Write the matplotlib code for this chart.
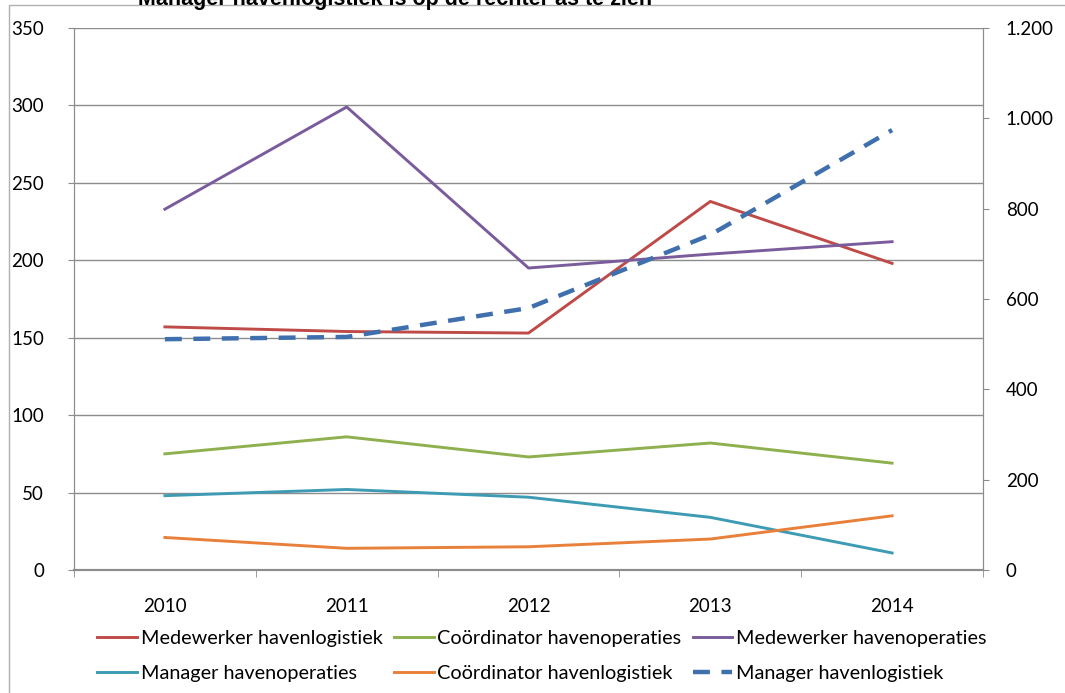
import matplotlib
matplotlib.use("Agg")
import matplotlib.pyplot as plt
from matplotlib.patches import Rectangle

plt.rcParams['font.family'] = ['Lato', 'DejaVu Sans']

jaren = ['2010', '2011', '2012', '2013', '2014']

medewerker_logistiek = [157, 154, 153, 238, 198]
coordinator_operaties = [75, 86, 73, 82, 69]
medewerker_operaties = [233, 299, 195, 204, 212]
manager_operaties = [48, 52, 47, 34, 11]
coordinator_logistiek = [21, 14, 15, 20, 35]
# rechter as
manager_logistiek = [511, 516, 580, 742, 974]

links_ticks = [0, 50, 100, 150, 200, 250, 300, 350]
rechts_ticks = [0, 200, 400, 600, 800, 1000, 1200]
rechts_labels = ['0', '200', '400', '600', '800', '1.000', '1.200']

grijs = '#8c8c8c'

fig = plt.figure(figsize=(10.65, 6.93), dpi=100)
ax = fig.add_axes([74 / 1065, 1 - 570 / 693, 909 / 1065, 542 / 693])
ax2 = ax.twinx()

x = [i + 0.5 for i in range(len(jaren))]

lw = 2.1
l1, = ax.plot(x, medewerker_logistiek, color='#BE4B48', lw=lw, label='Medewerker havenlogistiek')
l2, = ax.plot(x, coordinator_operaties, color='#8EB04E', lw=lw, label='Coördinator havenoperaties')
l3, = ax.plot(x, medewerker_operaties, color='#7A5C9C', lw=lw, label='Medewerker havenoperaties')
l4, = ax.plot(x, manager_operaties, color='#3D9BB3', lw=lw, label='Manager havenoperaties')
l5, = ax.plot(x, coordinator_logistiek, color='#E8803A', lw=lw, label='Coördinator havenlogistiek')
l6, = ax2.plot(x, manager_logistiek, color='#3F70AD', lw=3.2, dashes=(3.8, 2.6),
               label='Manager havenlogistiek')

ax.set_xlim(0, len(jaren))
ax.set_ylim(0, 350)
ax2.set_ylim(0, 1200)
ax.set_yticks(links_ticks)
ax2.set_yticks(rechts_ticks)
ax2.set_yticklabels(rechts_labels)

ax.set_xticks(x)
ax.set_xticklabels(jaren)
ax.set_xticks(range(len(jaren) + 1), minor=True)
ax.tick_params(axis='x', which='major', length=0, pad=20, labelsize=13.5)
ax.tick_params(axis='x', which='minor', length=5, color=grijs, direction='out')
ax.tick_params(axis='y', length=4.5, color=grijs, labelsize=13.5, pad=17)
ax2.tick_params(axis='y', length=4.5, color=grijs, labelsize=13.5, pad=12)

ax.grid(axis='y', color=grijs, lw=1.0)
ax.set_axisbelow(True)
for a in (ax, ax2):
    a.spines['top'].set_visible(False)
    a.spines['left'].set_color(grijs)
    a.spines['right'].set_color(grijs)
    a.spines['bottom'].set_color(grijs)
    a.spines['bottom'].set_linewidth(1.5)

# rand van het grafiekgebied
fig.patches.append(Rectangle((9 / 1065, -0.05), 1.2, 1 - 5 / 693 + 0.05,
                             transform=fig.transFigure, fill=False,
                             edgecolor='#b0b0b0', lw=1.0))

fig.text(395 / 1065, 1.0, 'Manager havenlogistiek is op de rechter as te zien',
         ha='center', va='center', fontsize=15.5, fontweight='bold', family='Liberation Sans')

handles = [l1, l4, l2, l5, l3, l6]
fig.legend(handles, [h.get_label() for h in handles], ncol=3,
           loc='center', bbox_to_anchor=(542 / 1065, 1 - 656 / 693),
           frameon=False, fontsize=14.3, handlelength=2.0, handletextpad=0.2,
           columnspacing=0.55, labelspacing=0.95)

fig.savefig('out.png', dpi=100)
